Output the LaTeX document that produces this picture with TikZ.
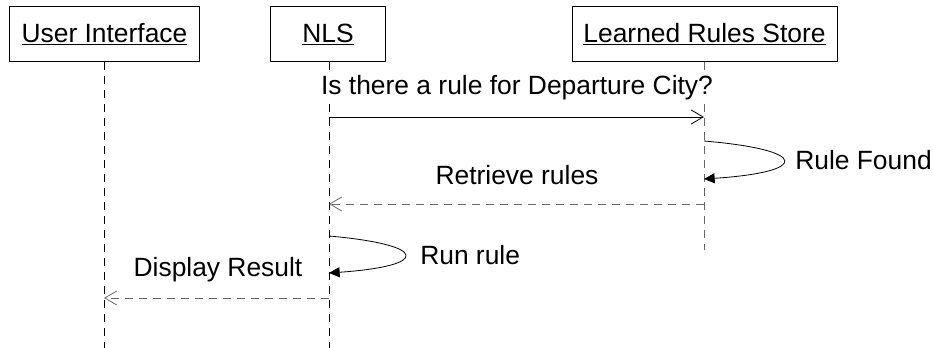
\documentclass[tikz,border=0pt]{standalone}
\usepackage{fontspec}
\setmainfont{Liberation Sans}
\usetikzlibrary{arrows.meta}

\tikzset{
	obj/.style={draw, line width=0.75pt, minimum height=41.25pt, inner sep=0pt},
	life/.style={dash pattern=on 6pt off 4.5pt, line width=0.6pt},
	call/.style={line width=0.6pt, -{Straight Barb[length=9pt,width=10.5pt]}},
	reply/.style={call, gray!80!black, dash pattern=on 6pt off 4.5pt},
	self/.style={line width=0.6pt, -{Triangle[length=8pt,width=7.5pt]}},
	lbl/.style={fill=white, inner xsep=0pt, inner ysep=2pt}
}

\begin{document}
\begin{tikzpicture}[x=0.75pt,y=-0.75pt,font=\fontsize{19.8pt}{23pt}\selectfont]
	\useasboundingbox (0,0) rectangle (933,348);

	\node[obj, minimum width=142.5pt] (ui) at (104.5,34.5) {\underline{User Interface}};
	\node[obj, minimum width=86.25pt] (nls) at (328,34.5) {\underline{NLS}};
	\node[obj, minimum width=198.75pt] (lrs) at (704.5,34.5) {\underline{Learned Rules Store}};

	\path
	coordinate (uiend) at (104,348)
	coordinate (nlsend) at (329,348)
	coordinate (lrsend) at (704,250)
	coordinate (ask1) at (329,117)
	coordinate (ask2) at (704,117)
	coordinate (found1) at (704,141)
	coordinate (found2) at (704,179)
	coordinate (ret1) at (704,204)
	coordinate (ret2) at (329,204)
	coordinate (run1) at (329,236)
	coordinate (run2) at (329,273)
	coordinate (disp1) at (329,298)
	coordinate (disp2) at (104,298)
	;

	% lifelines
	\draw[life] (ui.south -| uiend) -- (uiend);
	\draw[life] (nls.south -| nlsend) -- (nlsend);
	\draw[life, gray!80!black] (lrs.south -| lrsend) -- (lrsend);

	% messages
	\draw[call] (ask1) -- (ask2);
	\node[lbl] (asktxt) at (517,88) {Is there a rule for Departure City?};

	\draw[self] (found1) .. controls (810,150) and (810,172) .. (found2);
	\node[lbl, anchor=west] (foundtxt) at (795,160) {Rule Found};

	\draw[reply] (ret1) -- (ret2);
	\node[lbl] (rettxt) at (517,175) {Retrieve rules};

	\draw[self] (run1) .. controls (430,245) and (430,266) .. (run2);
	\node[lbl, anchor=west] (runtxt) at (420,255) {Run rule};

	\draw[reply] (disp1) -- (disp2);
	\node[lbl] (disptxt) at (218,270) {Display Result};

\end{tikzpicture}
\end{document}
